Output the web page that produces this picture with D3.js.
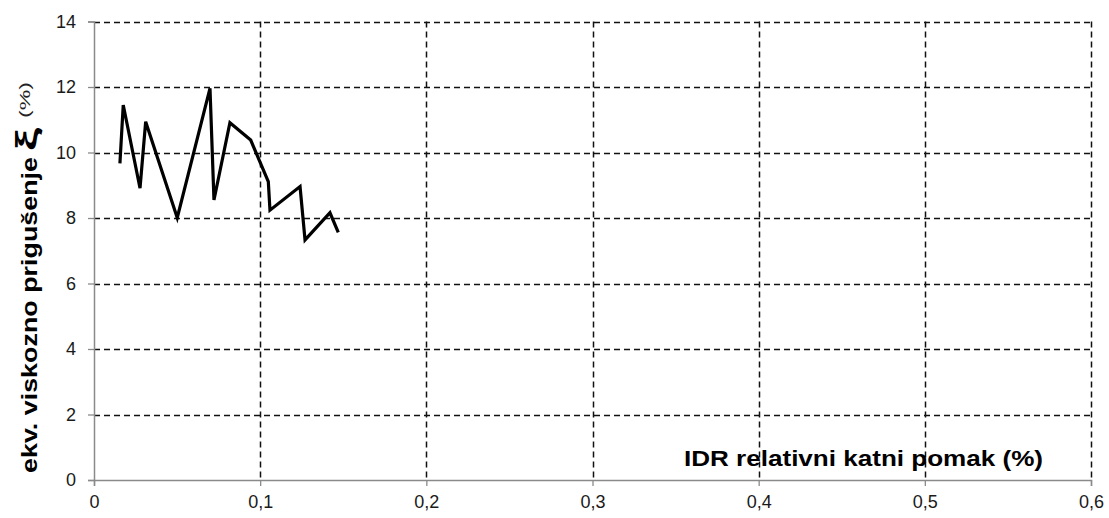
<!DOCTYPE html>
<html><head><meta charset="utf-8">
<script src="https://cdn.jsdelivr.net/npm/d3@7"></script>
<style>
body{margin:0;background:#fff;}
svg{display:block;}
text{font-family:"Liberation Sans","Arial",sans-serif;}
</style></head>
<body>
<svg id="c" width="1109" height="518"></svg>
<script>
// data
const idr = [0.0156,0.0176,0.0277,0.0311,0.0501,0.0698,0.0722,0.0818,0.0943,0.1049,0.1059,0.1240,0.1270,0.1420,0.1470];
const damping = [9.67,11.45,8.91,10.94,8.01,11.96,8.55,10.91,10.38,9.11,8.24,8.96,7.33,8.16,7.56];
const xTicks = [0,0.1,0.2,0.3,0.4,0.5,0.6];
const yTicks = [0,2,4,6,8,10,12,14];
const xTitle = "IDR relativni katni pomak (%)";
const yTitleMain = "ekv. viskozno prigušenje";
const yTitleSym = "ξ";
const yTitleUnit = "(%)";

const svg = d3.select("#c");
const L=94, R=1091, T=21.5, B=480;
const x = d3.scaleLinear().domain([0,0.6]).range([L,R]);
const y = d3.scaleLinear().domain([0,14]).range([B,T]);
const fmt = d => d===0 ? "0" : d3.format(".1f")(d).replace(".", ",");

// grid
const g = svg.append("g");
g.selectAll(".hg").data(yTicks.filter(d=>d>0)).join("line")
  .attr("x1",L).attr("x2",R).attr("y1",d=>Math.round(y(d))+0.5).attr("y2",d=>Math.round(y(d))+0.5)
  .attr("stroke","#111").attr("stroke-width",1.5).attr("stroke-dasharray","6,4");
g.selectAll(".vg").data(xTicks.filter(d=>d>0)).join("line")
  .attr("y1",T).attr("y2",B).attr("x1",d=>Math.round(x(d))+0.5).attr("x2",d=>Math.round(x(d))+0.5)
  .attr("stroke","#111").attr("stroke-width",1.5).attr("stroke-dasharray","6,4");

// axes
const xa = svg.append("g").attr("transform",`translate(0,${B})`)
  .call(d3.axisBottom(x).tickValues(xTicks).tickFormat(fmt).tickSize(6).tickPadding(9));
const ya = svg.append("g").attr("transform",`translate(${L},0)`)
  .call(d3.axisLeft(y).tickValues(yTicks).tickSize(6).tickPadding(12));
[xa,ya].forEach(a=>{
  a.attr("font-size",18);
  a.select(".domain").attr("stroke","#8a8a8a").attr("stroke-width",1.5);
  a.selectAll(".tick line").attr("stroke","#8a8a8a").attr("stroke-width",1.3);
  a.selectAll(".tick text").attr("font-size",18).attr("fill","#1a1a1a")
   .style("font-family",'"Liberation Sans",Arial,sans-serif');
});

// line
svg.append("path").datum(idr.map((v,i)=>[v,damping[i]]))
  .attr("fill","none").attr("stroke","#000").attr("stroke-width",3.2).attr("stroke-linejoin","miter")
  .attr("d",d3.line().x(d=>x(d[0])).y(d=>y(d[1])));

// x title
svg.append("text").attr("x",684).attr("y",466).attr("font-size",22).attr("font-weight","bold")
  .attr("textLength",359).attr("lengthAdjust","spacingAndGlyphs").attr("fill","#000").text(xTitle);

// y title
const yt = svg.append("g").attr("transform","translate(37,0) rotate(-90)");
yt.append("text").attr("x",-473).attr("y",0).attr("font-size",22).attr("font-weight","bold")
  .attr("textLength",316).attr("lengthAdjust","spacingAndGlyphs").attr("fill","#000").text(yTitleMain);
yt.append("text").attr("x",-151).attr("y",0).attr("font-size",30).attr("font-weight","bold")
  .attr("textLength",23).attr("lengthAdjust","spacingAndGlyphs").attr("fill","#000").text(yTitleSym);
yt.append("text").attr("x",-118).attr("y",-7).attr("font-size",15)
  .attr("textLength",36).attr("lengthAdjust","spacingAndGlyphs").attr("fill","#222").text(yTitleUnit);
</script>
</body></html>
